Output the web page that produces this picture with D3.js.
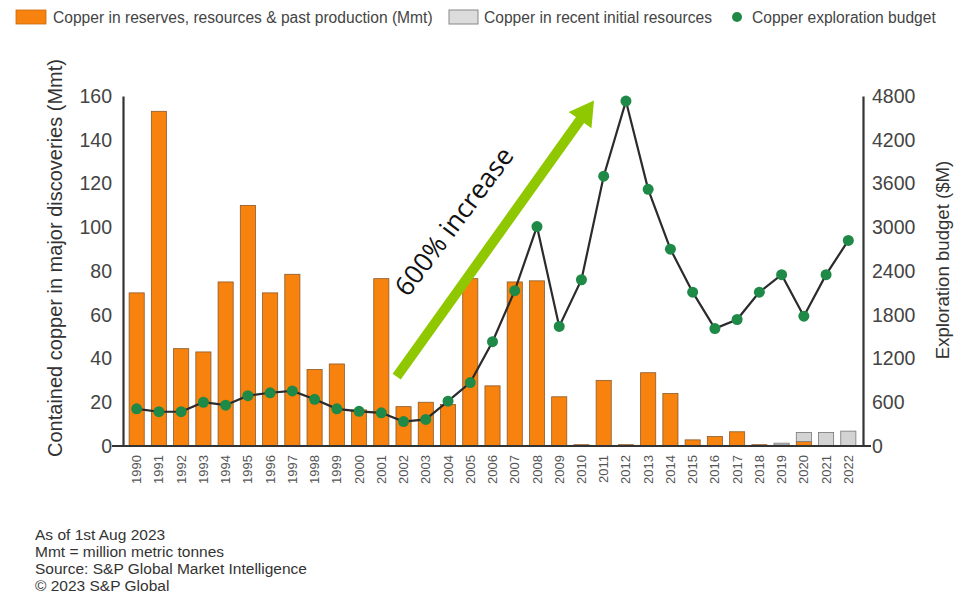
<!DOCTYPE html>
<html>
<head>
<meta charset="utf-8">
<script src="https://cdn.jsdelivr.net/npm/d3@7"></script>
<style>
  body { margin: 0; background: #fff; }
  svg { display: block; font-family: "Liberation Sans", Arial, sans-serif; }
</style>
</head>
<body>
<div id="chart"></div>
<script>
// data
const years = d3.range(1990, 2023).map(String);
const reserves = [70, 153, 44.5, 43, 75, 110, 70, 78.5, 35, 37.5, 16.5, 76.5, 18, 20, 19,
                  76.5, 27.5, 75, 75.5, 22.5, 0.6, 30, 0.6, 33.5, 24, 2.8, 4.3, 6.5, 0.6, 0.5, 2, 0, 0];
const recent = [0, 0, 0, 0, 0, 0, 0, 0, 0, 0, 0, 0, 0, 0, 0,
                0, 0, 0, 0, 0, 0, 0, 0, 0, 0, 0, 0, 0, 0, 0.8, 4.2, 6.2, 6.8];
const budget = [510, 470, 470, 600, 560, 690, 730, 755, 640, 510, 475, 455, 335, 365, 615,
                870, 1430, 2130, 3010, 1640, 2280, 3700, 4730, 3520, 2700, 2110, 1610, 1735, 2110, 2350, 1780, 2350, 2820];
const leftTicks = [0, 20, 40, 60, 80, 100, 120, 140, 160];
const rightTicks = [0, 600, 1200, 1800, 2400, 3000, 3600, 4200, 4800];
const legendItems = ["Copper in reserves, resources & past production (Mmt)",
                     "Copper in recent initial resources",
                     "Copper exploration budget"];
const notes = ["As of 1st Aug 2023", "Mmt = million metric tonnes",
               "Source: S&P Global Market Intelligence", "\u00a9 2023 S&P Global"];

const W = 961, H = 595;
const plotL = 122, plotR = 863, plotT = 96, plotB = 446;
const orange = "#f7820e", grey = "#d3d3d3", green = "#1f8a47", axisCol = "#333";

const svg = d3.select("#chart").append("svg").attr("width", W).attr("height", H);

const x = d3.scaleBand().domain(years).range([plotL, plotR]).padding(0.32);
const yL = d3.scaleLinear().domain([0, 160]).range([plotB, plotT]);
const yR = d3.scaleLinear().domain([0, 4800]).range([plotB, plotT]);

// bars
const rows = years.map((yr, i) => ({year: yr, a: reserves[i], b: recent[i], c: budget[i]}));

svg.append("g").selectAll("rect").data(rows).join("rect")
    .attr("x", d => x(d.year))
    .attr("width", x.bandwidth())
    .attr("y", d => yL(d.a))
    .attr("height", d => yL(0) - yL(d.a))
    .attr("fill", orange)
    .attr("stroke", "#8a5a2b")
    .attr("stroke-width", 0.8);

svg.append("g").selectAll("rect").data(rows.filter(d => d.b > 0)).join("rect")
    .attr("x", d => x(d.year))
    .attr("width", x.bandwidth())
    .attr("y", d => yL(d.a + d.b))
    .attr("height", d => yL(d.a) - yL(d.a + d.b))
    .attr("fill", grey)
    .attr("stroke", "#777")
    .attr("stroke-width", 0.8);

// axes
const lAxis = svg.append("g").attr("transform", `translate(${plotL + 1},0)`)
    .call(d3.axisLeft(yL).tickValues(leftTicks).tickSize(0).tickPadding(11));
const rAxis = svg.append("g").attr("transform", `translate(${plotR},0)`)
    .call(d3.axisRight(yR).tickValues(rightTicks).tickFormat(d3.format("d")).tickSize(0).tickPadding(9));
[lAxis, rAxis].forEach(g => {
  g.select(".domain").attr("stroke", axisCol).attr("stroke-width", 2.2);
  g.selectAll("text").attr("font-size", 19.5).attr("fill", "#444")
    .attr("font-family", "'Liberation Sans', Arial, sans-serif");
});

const xAxis = svg.append("g").attr("transform", `translate(0,${plotB})`)
    .call(d3.axisBottom(x).tickSize(0).tickPadding(0));
xAxis.select(".domain").attr("d", `M${plotL - 10},0H${plotR + 8}`)
    .attr("stroke", axisCol).attr("stroke-width", 2.2);
xAxis.selectAll("text")
    .attr("font-size", 13).attr("fill", "#555")
    .attr("font-family", "'Liberation Sans', Arial, sans-serif")
    .attr("text-anchor", "end")
    .attr("transform", "rotate(-90)")
    .attr("x", -9).attr("y", 0).attr("dy", "0.35em");

// budget line
const line = d3.line().x(d => x(d.year) + x.bandwidth() / 2).y(d => yR(d.c));
svg.append("path").datum(rows)
    .attr("d", line).attr("fill", "none")
    .attr("stroke", "#2b2b2b").attr("stroke-width", 2.2);
svg.append("g").selectAll("circle").data(rows).join("circle")
    .attr("cx", d => x(d.year) + x.bandwidth() / 2)
    .attr("cy", d => yR(d.c))
    .attr("r", 5.5)
    .attr("fill", green);

// axis titles
svg.append("text")
    .attr("transform", `translate(62,258) rotate(-90)`)
    .attr("text-anchor", "middle")
    .attr("font-size", 20).attr("fill", "#333")
    .text("Contained copper in major discoveries (Mmt)");
svg.append("text")
    .attr("transform", `translate(949,260) rotate(-90)`)
    .attr("text-anchor", "middle")
    .attr("font-size", 18.6).attr("fill", "#333")
    .text("Exploration budget ($M)");

// legend
const lg = svg.append("g").attr("font-size", 15.6).attr("fill", "#444");
lg.append("rect").attr("x", 16).attr("y", 10).attr("width", 30).attr("height", 14)
    .attr("fill", orange).attr("stroke", "#c96a10").attr("stroke-width", 0.8);
lg.append("text").attr("x", 53).attr("y", 23).text(legendItems[0]);
lg.append("rect").attr("x", 449).attr("y", 10).attr("width", 29).attr("height", 14)
    .attr("fill", "#dcdcdc").attr("stroke", "#888").attr("stroke-width", 1);
lg.append("text").attr("x", 484).attr("y", 23).text(legendItems[1]);
lg.append("circle").attr("cx", 737).attr("cy", 17).attr("r", 5).attr("fill", green);
lg.append("text").attr("x", 752).attr("y", 23).text(legendItems[2]);

// notes
svg.append("g").selectAll("text").data(notes).join("text")
    .attr("x", 35).attr("y", (d, i) => 540 + i * 17)
    .attr("font-size", 15.5).attr("fill", "#333")
    .text(d => d);

// annotation arrow
const tail = [396.7, 376.7], tip = [594, 100.5];
const len = Math.hypot(tip[0] - tail[0], tip[1] - tail[1]);
const ang = Math.atan2(tip[1] - tail[1], tip[0] - tail[0]) * 180 / Math.PI;
const headL = 24, headW = 14, shaft = 5;
svg.append("polygon")
    .attr("transform", `translate(${tail}) rotate(${ang})`)
    .attr("points", [[0, -shaft], [len - headL, -shaft], [len - headL, -headW], [len, 0],
                     [len - headL, headW], [len - headL, shaft], [0, shaft]].join(" "))
    .attr("fill", "#8fc800");

svg.append("text")
    .attr("transform", `translate(408,298) rotate(-53)`)
    .attr("font-family", "'Open Sans', sans-serif")
    .attr("font-size", 26.5).attr("fill", "#111")
    .text("600% increase");
</script>
</body>
</html>
